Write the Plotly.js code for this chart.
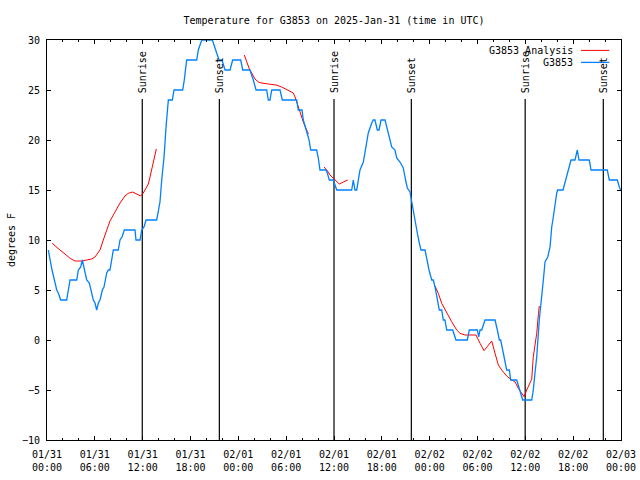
<!DOCTYPE html>
<html>
<head>
<meta charset="utf-8">
<script src="https://cdn.plot.ly/plotly-3.0.1.min.js"></script>
<style>html,body{margin:0;padding:0;background:#fff;}#chart{width:640px;height:480px;}</style>
</head>
<body>
<div id="chart"></div>
<script>
// Hours since 2025-01-31 00:00 UTC
const obsHours = [0.16,0.63,1.22,1.42,1.72,2.47,2.89,3.73,3.93,4.23,4.43,4.68,4.98,5.31,5.61,5.81,6.02,6.23,6.44,6.65,6.94,7.15,7.49,7.69,7.90,8.32,8.94,9.16,9.41,9.70,11.04,11.16,11.67,11.88,12.17,12.42,13.76,13.96,14.17,14.39,14.68,14.93,15.14,15.22,15.72,15.93,17.02,17.22,17.52,18.78,18.98,19.41,20.74,21.07,21.58,21.95,22.33,22.96,23.29,24.30,24.55,25.46,25.68,25.88,26.22,27.56,27.76,27.97,28.19,29.23,29.52,31.32,31.52,31.99,32.15,32.49,32.70,32.87,33.08,33.83,34.03,34.16,34.24,35.00,35.16,35.41,35.91,36.34,38.22,38.42,38.63,38.85,39.05,39.26,39.68,39.98,40.30,40.73,40.93,41.14,41.43,41.65,41.90,42.40,42.69,42.90,43.24,43.65,43.87,44.28,44.69,45.03,45.20,45.53,45.75,46.16,46.45,46.70,46.91,47.42,47.63,47.92,48.26,48.46,48.67,48.88,49.21,49.51,49.71,49.92,50.14,50.89,51.30,52.72,52.97,53.98,54.15,54.32,54.53,54.94,56.20,56.49,56.74,56.91,57.16,57.32,57.66,57.99,58.17,58.92,59.12,59.33,59.67,60.80,61.00,61.21,61.43,61.75,62.05,62.26,62.47,62.81,63.10,63.31,63.51,63.72,63.94,64.06,64.73,65.06,65.39,65.73,66.23,66.52,66.73,68.02,68.24,70.28,70.53,71.54,71.79,71.96];
const obsTemps = [9,7,5,4.7,4,4,6,6,7,7.3,8,7,6,5.7,4.5,4,3.7,3,3.7,4,5,5.3,6.7,7,7,9,9,10,10.3,11,11,10,10,11,11.3,12,12,13,13.8,16,18.3,21.3,23.7,24,24,25,25,26,28,28,29,30,30,29.2,28,28,27,27,28,28,27,27,26.5,26,25,25,24,24,25,25,24,24,23,23,22,21,20.5,20,19,19,18.2,17.3,17,17,16.7,16,16,15,15,16,15,15,16,17,17.8,19.3,20.7,21.7,22,22,21,21,22,22,21,20.5,19.3,19,18.2,17.8,17.2,15.8,15.2,14.8,13.8,11.7,10.7,9.7,9,9,8,7,6,6,5.3,4.5,3,3,2,2,1,1,0,0,1,1,0.3,1,1,2,2,1,0,0,-1,-2,-3,-3,-4,-4,-4.5,-5,-6,-6,-5,-3.3,-1.7,2,4,6,7.8,8.3,9.3,11.3,12.3,13.7,14.7,15,15,16,17,18,18,19,18,18,17,17,16,16,15.3,15];

const anaHours = [0.66,1.00,1.63,2.26,2.89,3.51,4.35,4.98,5.61,6.02,6.65,7.06,7.49,7.90,8.53,9.16,9.78,10.20,10.75,11.25,11.75,12.08,12.51,12.71,12.92,13.33,13.55,13.71,
  null,
  24.75,25.05,25.38,25.68,26.09,26.51,26.93,27.76,28.73,29.44,30.27,30.90,31.11,31.40,31.74,32.15,32.49,32.78,
  null,
  34.75,35.09,35.50,36.13,36.67,37.17,37.72,
  null,
  48.67,49.08,49.51,50.14,50.76,51.39,51.81,52.43,53.81,54.32,54.82,55.23,55.78,56.20,56.61,57.04,57.66,58.29,58.70,59.12,59.55,59.84,60.17,60.59,60.80,61.00,61.21,61.43,61.65,61.75];
const anaTemps = [9.67,9.4,9,8.6,8.17,7.9,7.9,8,8.1,8.3,9,10,11.07,11.9,12.8,13.7,14.4,14.67,14.8,14.6,14.4,14.7,15.3,15.6,16.3,17.8,18.7,19.1,
  null,
  28.5,27.8,27.1,26.7,26.1,25.8,25.7,25.6,25.5,25.3,25,24.7,24.3,23.5,22.8,21.8,21.2,20.6,
  null,
  17.3,17,16.5,16,15.6,15.8,16,
  null,
  5.4,4.67,3.67,2.67,1.83,1,0.67,0.5,0.5,-0.33,-1.07,-0.67,-0.1,-1.33,-2.5,-3,-3.6,-4,-4.17,-4.83,-5.33,-5.67,-5,-4.33,-3.93,-1.67,-0.67,0.67,2.67,3.4];

const sunriseHours = [11.95, 36.0, 59.98];
const sunsetHours = [21.62, 45.7, 69.78];

const tickHours = [0,6,12,18,24,30,36,42,48,54,60,66,72];
const tickLabels = ["01/31<br>00:00","01/31<br>06:00","01/31<br>12:00","01/31<br>18:00","02/01<br>00:00","02/01<br>06:00","02/01<br>12:00","02/01<br>18:00","02/02<br>00:00","02/02<br>06:00","02/02<br>12:00","02/02<br>18:00","02/03<br>00:00"];

const seriesNames = ["G3853 Analysis", "G3853"];
const seriesColors = ["rgb(255,0,0)", "rgb(0,128,255)"];

const FONT = "DejaVu Sans Mono, Liberation Mono, monospace";
const LINE_TOP = 24.1;
const LABEL_Y = 24.6;

const traces = [];
const annotations = [];
const events = [];
sunriseHours.forEach(h => events.push({h: h, label: "Sunrise"}));
sunsetHours.forEach(h => events.push({h: h, label: "Sunset"}));
events.forEach(ev => {
  traces.push({x: [ev.h, ev.h], y: [-10, LINE_TOP], mode: "lines", line: {color: "#000", width: 1.2}, showlegend: false, hoverinfo: "skip"});
  annotations.push({x: ev.h, y: LABEL_Y, xref: "x", yref: "y", text: ev.label, textangle: -90, showarrow: false, xanchor: "center", yanchor: "bottom", font: {family: FONT, size: 10, color: "#000"}, borderpad: 0});
});

traces.push({x: anaHours, y: anaTemps, mode: "lines", line: {color: seriesColors[0], width: 1}, name: seriesNames[0], showlegend: false, connectgaps: false});
traces.push({x: obsHours, y: obsTemps, mode: "lines", line: {color: seriesColors[1], width: 1.3}, name: seriesNames[1], showlegend: false});

// legend drawn gnuplot-style (text right, sample line after)
const legendRows = [0.974, 0.944];
const shapes = [];
seriesNames.forEach((nm, i) => {
  annotations.push({x: 0.9186, y: legendRows[i], xref: "paper", yref: "paper", text: nm, showarrow: false, xanchor: "right", yanchor: "middle", font: {family: FONT, size: 10, color: "#000"}, bgcolor: "rgba(0,0,0,0)", borderpad: 0});
  shapes.push({type: "line", xref: "paper", yref: "paper", x0: 0.9303, x1: 0.9796, y0: legendRows[i], y1: legendRows[i], line: {color: seriesColors[i], width: i === 0 ? 1 : 1.3}});
});

const layout = {
  width: 640, height: 480,
  margin: {l: 47, r: 19, t: 40, b: 40},
  paper_bgcolor: "#fff", plot_bgcolor: "#fff",
  font: {family: FONT, size: 10, color: "#000"},
  title: {text: "Temperature for G3853 on 2025-Jan-31 (time in UTC)", xref: "paper", x: 0.5, xanchor: "center", yref: "container", y: 0.958, yanchor: "middle", font: {family: FONT, size: 10, color: "#000"}},
  xaxis: {
    range: [0, 72], tickmode: "array", tickvals: tickHours, ticktext: tickLabels,
    ticks: "inside", ticklen: 4, tickcolor: "#000", tickwidth: 1, ticklabelstandoff: 5,
    minor: {tickmode: "linear", tick0: 0, dtick: 2, ticks: "inside", ticklen: 2, tickcolor: "#000", showgrid: false},
    showline: true, linecolor: "#000", linewidth: 1, mirror: "ticks",
    showgrid: false, zeroline: false, fixedrange: true,
    tickfont: {family: FONT, size: 10, color: "#000"}
  },
  yaxis: {
    range: [-10, 30], tickmode: "linear", tick0: -10, dtick: 5,
    ticks: "inside", ticklen: 4, tickcolor: "#000", tickwidth: 1, ticklabelstandoff: 4,
    showline: true, linecolor: "#000", linewidth: 1, mirror: "ticks",
    showgrid: false, zeroline: false, fixedrange: true,
    tickfont: {family: FONT, size: 10, color: "#000"},
    title: {text: "degrees F", font: {family: FONT, size: 10, color: "#000"}, standoff: 4}
  },
  annotations: annotations,
  shapes: shapes,
  showlegend: false
};

Plotly.newPlot("chart", traces, layout, {staticPlot: true, displayModeBar: false});
</script>
</body>
</html>
